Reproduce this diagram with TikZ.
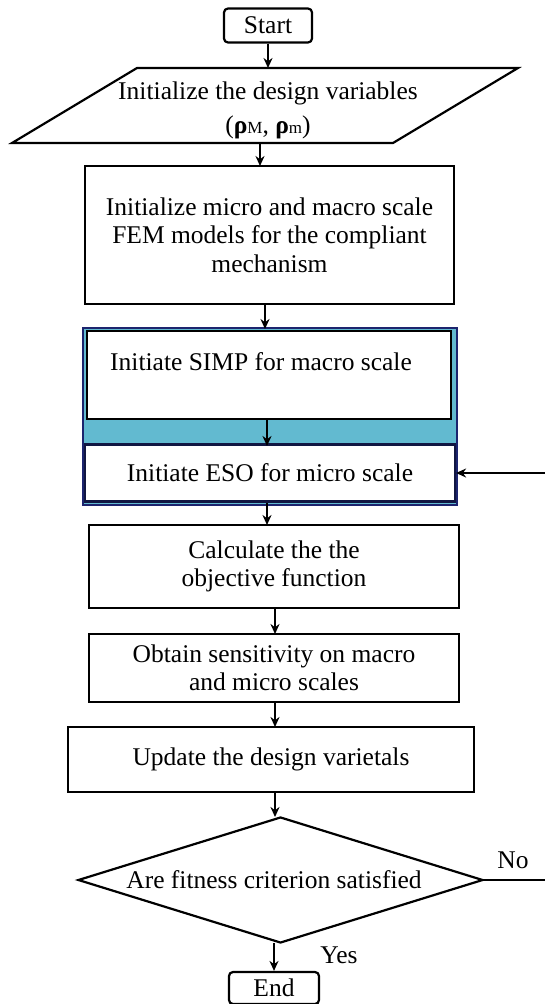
\documentclass[tikz,border=0pt]{standalone}
\usepackage{fontspec}
\setmainfont{Liberation Serif}
\usetikzlibrary{shapes.geometric,arrows.meta}
\definecolor{bandcyan}{RGB}{98,186,208}
\definecolor{navy}{RGB}{28,36,110}
\tikzset{
  txt/.style={font=\fontsize{25.5}{28.5}\selectfont, align=center, inner sep=0pt},
  procbox/.style={txt, draw=black, line width=2.2pt, fill=white},
  termbox/.style={txt, draw=black, line width=2.2pt, rounded corners=4pt},
  conn/.style={line width=2pt, -{Stealth[length=10pt,width=9pt]}},
  plain/.style={line width=2pt},
  lbl/.style={font=\fontsize{25.5}{28}\selectfont, inner sep=0pt}
}
\begin{document}
\begin{tikzpicture}[x=1pt,y=-1pt]
\useasboundingbox (0,0) rectangle (545,1004);
% Start
\node[termbox, minimum width=88pt, minimum height=34pt] (start) at (268,25.5) {Start};
% parallelogram
\draw[line width=2.2pt] (137,68) -- (518,68) -- (393,143) -- (12,143) -- cycle;
\node[txt, font=\fontsize{25.5}{34}\selectfont, minimum width=260pt, minimum height=75pt] (par) at (268,110.5) {Initialize the design variables\\ (\textbf{ρ}{\fontsize{17}{17}\selectfont M}, \textbf{ρ}{\fontsize{17}{17}\selectfont m})};
% FEM box
\node[procbox, minimum width=369pt, minimum height=138pt] (fem) at (269.5,235) {Initialize micro and macro scale\\ FEM models for the compliant\\ mechanism};
% container
\node[draw=navy, line width=2.2pt, fill=bandcyan, minimum width=374pt, minimum height=177pt, inner sep=0pt] (cont) at (270,416.5) {};
\node[procbox, minimum width=364pt, minimum height=88pt] (simp) at (269,375) {};
\node[txt] (simptxt) at (261,362) {Initiate SIMP for macro scale};
\node[procbox, draw=navy!60!black, minimum width=370pt, minimum height=57pt] (eso) at (270,473) {Initiate ESO for micro scale};
% lower boxes
\node[procbox, minimum width=370pt, minimum height=83pt] (calc) at (274,566.5) {Calculate the the\\ objective function};
\node[procbox, minimum width=370pt, minimum height=68pt] (sens) at (274,668) {Obtain sensitivity on macro\\ and micro scales};
\node[procbox, minimum width=406pt, minimum height=65pt] (upd) at (271,759.5) {Update the design varietals};
\node[txt, diamond, draw=black, line width=2.2pt, aspect=3.2, minimum width=405pt, minimum height=126pt] (dec) at (280.5,880) {};
\node[txt] (dectxt) at (274,880) {Are fitness criterion satisfied};
\node[termbox, minimum width=90pt, minimum height=32pt] (end) at (274,988) {End};
% free ends
\coordinate (noend) at (545,880);
\coordinate (backin) at (545,473);
% connectors
\draw[conn] (start.south) -- (268,68);
\draw[conn] (260,143) -- (260,166);
\draw[conn] (265,304) -- (265,329);
\draw[conn] (267,419) -- (267,446);
\draw[conn] (267,503) -- (267,525);
\draw[conn] (275,608) -- (275,634);
\draw[conn] (275,702) -- (275,727);
\draw[conn] (275,792) -- (275,817);
\draw[conn] (274,943) -- (end.north);
\draw[plain] (dec.east) -- (noend);
\draw[conn] (backin) -- (eso.east);
% labels
\node[lbl] (no) at (513,860) {No};
\node[lbl] (yes) at (339,955) {Yes};
\end{tikzpicture}
\end{document}
